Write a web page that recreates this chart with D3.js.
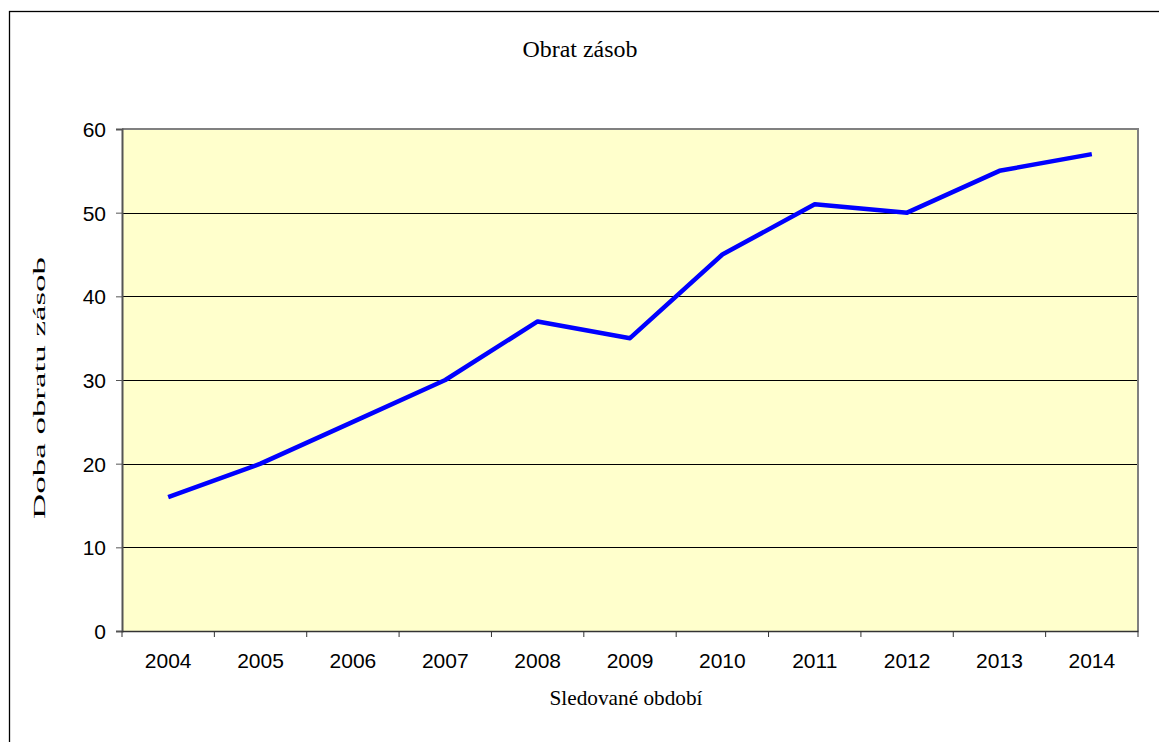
<!DOCTYPE html>
<html><head><meta charset="utf-8">
<script src="https://cdn.jsdelivr.net/npm/d3@7"></script>
<style>body{margin:0;background:#fff;}svg{display:block;}</style>
</head><body>
<svg id="chart" width="1159" height="742"></svg>
<script>
const years = ["2004","2005","2006","2007","2008","2009","2010","2011","2012","2013","2014"];
const values = [16, 20, 25, 30, 37, 35, 45, 51, 50, 55, 57];
const yTicks = [0, 10, 20, 30, 40, 50, 60];
const title = "Obrat zásob";
const yLabel = "Doba obratu zásob";
const xLabel = "Sledované období";

const svg = d3.select("#chart");
const L = 122, R = 1138, T = 129, B = 631;
const sans = "'Liberation Sans', Arial, sans-serif";
const serif = "'Liberation Serif', 'Times New Roman', serif";

svg.append("rect").attr("x", 9.5).attr("y", 11.5).attr("width", 1200).attr("height", 800)
  .attr("fill", "#fff").attr("stroke", "#000").attr("stroke-width", 1.3);

const x = d3.scaleBand().domain(years).range([L, R]).padding(0);
const y = d3.scaleLinear().domain([0, 60]).range([B, T]);

svg.append("rect").attr("x", L).attr("y", T).attr("width", R - L).attr("height", B - T)
  .attr("fill", "#FFFFCC");

// gridlines
svg.append("g").selectAll("line").data(yTicks.filter(d => d > 0 && d < 60)).join("line")
  .attr("x1", L).attr("x2", R).attr("y1", d => Math.round(y(d)) + 0.5).attr("y2", d => Math.round(y(d)) + 0.5)
  .attr("stroke", "#000").attr("stroke-width", 1);

// plot frame top/right gray
svg.append("path").attr("d", `M${L},${T}H${R}V${B}`).attr("fill", "none")
  .attr("stroke", "#808080").attr("stroke-width", 2);

// y axis
const yAxis = d3.axisLeft(y).tickValues(yTicks).tickSize(6).tickPadding(10);
const gy = svg.append("g").attr("transform", `translate(${L},0)`).call(yAxis);
gy.select(".domain").attr("stroke", "#555").attr("stroke-width", 2);
gy.selectAll(".tick line").attr("stroke", "#555");
gy.selectAll("text").attr("font-family", sans).attr("font-size", 21).attr("fill", "#000").attr("dy", "0.35em");

// x axis
const xAxis = d3.axisBottom(x).tickSize(0);
const gx = svg.append("g").attr("transform", `translate(0,${B})`).call(xAxis);
gx.select(".domain").attr("stroke", "#333").attr("stroke-width", 1.5);
gx.selectAll("text").attr("font-family", sans).attr("font-size", 21).attr("fill", "#000")
  .attr("y", 37).attr("dy", 0);
// boundary ticks
const bounds = years.map(d => x(d)).concat([R]);
svg.append("g").selectAll("line").data(bounds).join("line")
  .attr("x1", d => d).attr("x2", d => d).attr("y1", B).attr("y2", B + 6)
  .attr("stroke", "#333").attr("stroke-width", 1);

// line
const line = d3.line().x((d, i) => x(years[i]) + x.bandwidth() / 2).y(d => y(d));
svg.append("path").datum(values).attr("d", line).attr("fill", "none")
  .attr("stroke", "#0000FF").attr("stroke-width", 4.5).attr("stroke-linejoin", "round");

// texts
svg.append("text").attr("x", 580).attr("y", 57).attr("text-anchor", "middle")
  .attr("font-family", serif).attr("font-size", 24)
  .attr("textLength", 115).attr("lengthAdjust", "spacingAndGlyphs").text(title);
svg.append("text").attr("transform", `translate(45,388) rotate(-90)`).attr("text-anchor", "middle")
  .attr("font-family", serif).attr("font-size", 16)
  .attr("textLength", 262).attr("lengthAdjust", "spacingAndGlyphs").text(yLabel);
svg.append("text").attr("x", 626).attr("y", 705).attr("text-anchor", "middle")
  .attr("font-family", serif).attr("font-size", 22)
  .attr("textLength", 153).attr("lengthAdjust", "spacingAndGlyphs").text(xLabel);
</script>
</body></html>
